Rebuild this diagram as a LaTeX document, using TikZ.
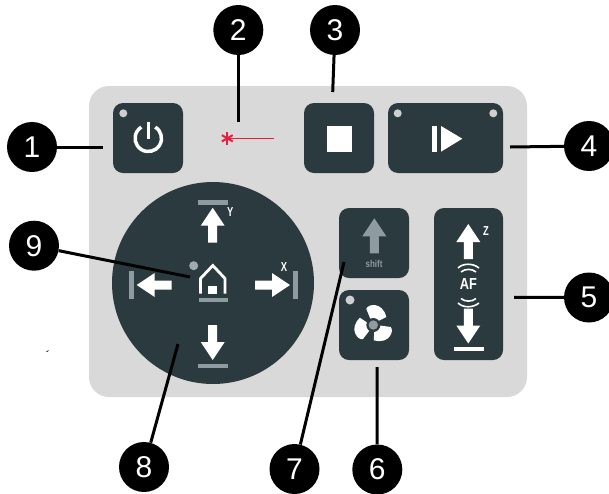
\documentclass[tikz,border=0pt]{standalone}
\usepackage{fontspec}
\setmainfont{Liberation Sans}
\usetikzlibrary{shapes}
\definecolor{panelgrey}{HTML}{D9D9D9}
\definecolor{keydark}{HTML}{2B3A3E}
\definecolor{keygrey}{HTML}{8E9BA1}
\definecolor{ledgrey}{HTML}{CFCFCF}
\definecolor{laserred}{HTML}{EC1C3C}
\tikzset{
  badge/.style={circle,fill=black,text=white,minimum size=50pt,inner sep=0pt,font=\fontsize{30}{30}\selectfont},
  lead/.style={black,line width=3pt},
  keycap/.style={fill=keydark,rounded corners=10pt,minimum height=70pt,inner sep=0pt},
  axislabel/.style={white,font=\fontsize{13}{13}\bfseries\selectfont,xscale=.72,inner sep=0pt},
  led/.style={circle,fill=ledgrey,minimum size=8pt,inner sep=0pt}
}
% arrow pointing up with its tip at (#1,#2)
\newcommand{\keyarrow}[5]{\fill[#5,shift={(#1,#2)},rotate=#3,yscale=#4] (0,0) -- (12,18) -- (4.5,18) -- (4.5,35) -- (-4.5,35) -- (-4.5,18) -- (-12,18) -- cycle;}
\begin{document}
\begin{tikzpicture}[x=1pt,y=-1pt]
\useasboundingbox (0,0) rectangle (609,493);
\fill[white] (0,0) rectangle (609,493);

% panel
\fill[panelgrey,rounded corners=20pt] (89,86) rectangle (527,397);

% keys
\node[keycap,minimum width=70pt] (power) at (148,138) {};
\node[keycap,minimum width=70pt] (stop) at (339,138) {};
\node[keycap,minimum width=115pt] (play) at (445.5,138) {};
\node[keycap,minimum width=70pt] (shift) at (374,243) {};
\node[keycap,minimum width=70pt] (fan) at (374,325) {};
\node[keycap,minimum width=69pt,minimum height=152pt] (zaxis) at (468.5,284) {};
\node[circle,fill=keydark,minimum size=202pt,inner sep=0pt] (pad) at (213,283) {};

% power
\node[led] (ledpower) at (123.3,113.3) {};
\draw[white,line width=3.5pt] (148.3,138.3) ++(-58:13.2) arc (-58:238:13.2);
\draw[white,line width=3.5pt] (148.3,122) -- (148.3,139);

% stop
\fill[white] (327.3,126.3) rectangle (352.3,151.7);

% play
\node[led] (ledplayl) at (397.7,113.3) {};
\node[led] (ledplayr) at (493.3,113.3) {};
\fill[white] (432.3,126) rectangle (437,151.7);
\fill[white] (441,126) -- (462.3,138.7) -- (441,151.7) -- cycle;

% laser
\draw[laserred,line width=1.6pt] (227.3,138.3) -- (274.3,138.3);
\foreach \a in {0,60,120} {
  \draw[laserred,line width=2pt] (227.3,138.3) ++(\a+90:6.3) -- ++(\a+270:12.6);
}

% pad
\keyarrow{212.7}{207.7}{0}{1}{white}
\keyarrow{136.7}{285}{90}{1}{white}
\keyarrow{290}{285}{-90}{1}{white}
\keyarrow{212.7}{360}{0}{-1}{white}
\fill[keygrey] (197.7,200) rectangle (227.7,204.5);
\fill[keygrey] (197.7,364) rectangle (227.7,368);
\fill[keygrey] (129,270.7) rectangle (133.7,299);
\fill[keygrey] (293.3,270.7) rectangle (297.7,299);
\node[axislabel] (ylabel) at (230.3,212.5) {Y};
\node[axislabel] (xlabel) at (284,267) {X};

% home
\node[led,minimum size=9pt,fill=keygrey!70!ledgrey] (ledhome) at (193.7,265.7) {};
\draw[white,line width=2.8pt] (200.5,293.5) -- (200.5,278.5) -- (212.8,265.5) -- (225,278.5) -- (225,293.5);
\fill[white] (208.3,286) rectangle (217,293.5);
\fill[keygrey] (199,297.7) rectangle (227.7,302.3);

% shift
\keyarrow{374.3}{218.3}{0}{1}{keygrey}
\node[keygrey,font=\fontsize{10}{10}\bfseries\selectfont,xscale=.8,inner sep=0pt] (shifttext) at (374,264) {shift};

% fan
\node[led,minimum size=9pt] (ledfan) at (350,300) {};
\foreach \a in {0,120,240} {
  \fill[white,shift={(373.3,325)},rotate=\a] (-2,-4) -- (-7,-16) .. controls (-6,-21) and (9,-24) .. (13,-8) -- (5,-4) -- cycle;
}
\fill[keydark] (373.3,325) circle (7);
\fill[keygrey] (373.3,325) circle (4.7);

% z axis
\keyarrow{468.3}{224}{0}{1}{white}
\keyarrow{468.3}{343.5}{0}{-1}{white}
\fill[white] (454,346.7) rectangle (484,351.3);
\node[axislabel] (zlabel) at (486,230.7) {Z};
\node[white,font=\fontsize{16}{16}\bfseries\selectfont,xscale=.8,inner sep=0pt] (aftext) at (468.3,284) {AF};
\draw[white,line width=1.6pt] (458,268) .. controls (463,263) and (473,263) .. (479,268);
\draw[white,line width=1.6pt] (461,272) .. controls (465,268.5) and (472,268.5) .. (476,272);
\draw[white,line width=1.6pt] (458,303) .. controls (463,308) and (473,308) .. (479,303);
\draw[white,line width=1.6pt] (461,298.5) .. controls (465,302) and (472,302) .. (476,298.5);

% speck
\fill[black] (46,352) -- (48.5,350) -- (48,351.5) -- cycle;

% numbers
\node[badge] (n1) at (32,147) {1};
\node[badge] (n2) at (238.3,30) {2};
\node[badge] (n3) at (335,30) {3};
\node[badge] (n4) at (589,146) {4};
\node[badge] (n5) at (589,297.5) {5};
\node[badge] (n6) at (377.3,469.5) {6};
\node[badge] (n7) at (294.5,469) {7};
\node[badge] (n8) at (144,467) {8};
\node[badge] (n9) at (34,245.7) {9};

\coordinate (c1) at (103,147);
\coordinate (c2) at (238.3,122);
\coordinate (c3) at (332.7,92);
\coordinate (c4) at (510,147);
\coordinate (c5) at (514,297.3);
\coordinate (c6) at (377,367);
\coordinate (c7) at (344,262);
\coordinate (c8) at (178,344);
\coordinate (c9) at (190,277);
\draw[lead] (n1) -- (c1);
\draw[lead] (n2) -- (c2);
\draw[lead] (n3) -- (c3);
\draw[lead] (n4) -- (c4);
\draw[lead] (n5) -- (c5);
\draw[lead] (n6) -- (c6);
\draw[lead] (n7) -- (c7);
\draw[lead] (n8) -- (c8);
\draw[lead] (n9) -- (c9);
\end{tikzpicture}
\end{document}
